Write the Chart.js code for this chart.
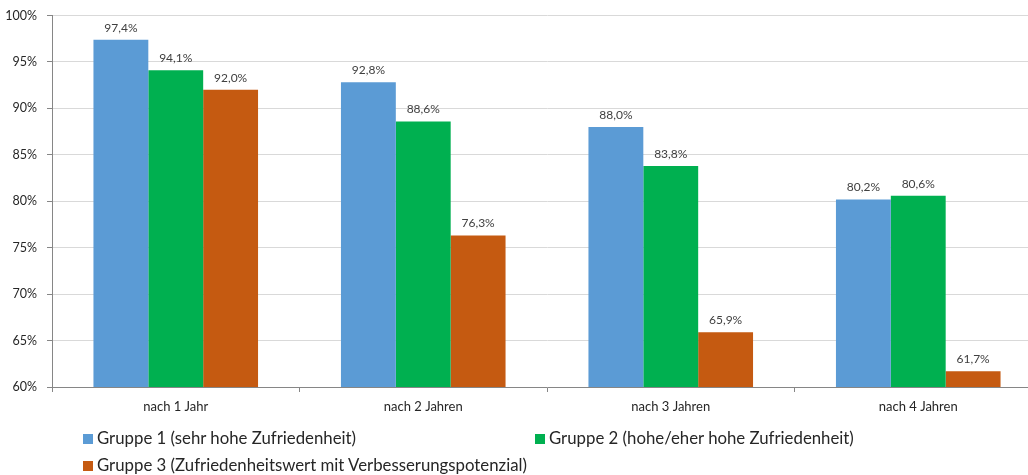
<!DOCTYPE html>
<html>
<head>
<meta charset="utf-8">
<script src="https://cdn.jsdelivr.net/npm/chart.js@4"></script>
<style>
  body { margin: 0; background: #fff; }
  #wrap { position: relative; width: 1028px; height: 475px; overflow: hidden; }
  #chart { position: absolute; left: 0; top: -2px; }
  .leg { position: absolute; font-family: Lato, sans-serif; font-size: 16.8px; color: #262626; white-space: nowrap; line-height: 18px; }
  .leg i { display: inline-block; width: 10px; height: 10px; margin-right: 4px; vertical-align: 0px; }
</style>
</head>
<body>
<div id="wrap">
  <canvas id="chart" width="1048" height="477"></canvas>
  <div id="legend"></div>
</div>
<script>
// Data
const categories = ["nach 1 Jahr", "nach 2 Jahren", "nach 3 Jahren", "nach 4 Jahren"];
const seriesNames = [
    "Gruppe 1 (sehr hohe Zufriedenheit)",
    "Gruppe 2 (hohe/eher hohe Zufriedenheit)",
    "Gruppe 3 (Zufriedenheitswert mit Verbesserungspotenzial)"
];
const gruppe1 = [97.4, 92.8, 88.0, 80.2];
const gruppe2 = [94.1, 88.6, 83.8, 80.6];
const gruppe3 = [92.0, 76.3, 65.9, 61.7];
const colors = ["#5b9bd5", "#00b050", "#c55a11"];

const fmt = v => v.toFixed(1).replace(".", ",") + "%";

// Value labels above bars
const valueLabels = {
    id: "valueLabels",
    afterDatasetsDraw(chart) {
        const ctx = chart.ctx;
        ctx.save();
        ctx.font = "12px Lato, sans-serif";
        ctx.fillStyle = "#404040";
        ctx.textAlign = "center";
        ctx.textBaseline = "bottom";
        chart.data.datasets.forEach((ds, i) => {
            chart.getDatasetMeta(i).data.forEach((bar, j) => {
                ctx.fillText(fmt(ds.data[j]), bar.x, bar.y - 6);
            });
        });
        ctx.restore();
    }
};

const datasets = [gruppe1, gruppe2, gruppe3].map((d, i) => ({
    label: seriesNames[i],
    data: d,
    backgroundColor: colors[i],
    borderWidth: 0,
    categoryPercentage: 0.665,
    barPercentage: 1.0
}));

new Chart(document.getElementById("chart"), {
    type: "bar",
    data: { labels: categories, datasets: datasets },
    options: {
        responsive: false,
        animation: false,
        layout: { padding: { top: 14, right: 6, left: 0, bottom: 0 } },
        plugins: { legend: { display: false }, tooltip: { enabled: false } },
        scales: {
            x: {
                grid: { offset: true, drawOnChartArea: false, drawTicks: true, tickLength: 5, color: "#868686" },
                border: { color: "#868686" },
                ticks: { color: "#262626", font: { family: "Lato, sans-serif", size: 13 }, padding: 7 },
                afterFit(s) { s.height = 88; }
            },
            y: {
                min: 60, max: 100,
                grid: { color: "#d9d9d9", tickLength: 5, tickColor: "#868686" },
                border: { color: "#868686" },
                ticks: {
                    stepSize: 5,
                    color: "#262626",
                    font: { family: "Lato, sans-serif", size: 12.5 },
                    padding: 10,
                    callback: v => v + "%"
                },
                afterFit(s) { s.width = 52; }
            }
        }
    },
    plugins: [valueLabels]
});

// Legend (HTML)
const legendPos = [[83, 429], [535, 429], [83, 456]];
const legendEl = document.getElementById("legend");
seriesNames.forEach((name, i) => {
    const div = document.createElement("div");
    div.className = "leg";
    div.style.left = legendPos[i][0] + "px";
    div.style.top = legendPos[i][1] + "px";
    div.innerHTML = `<i style="background:${colors[i]}"></i>${name}`;
    legendEl.appendChild(div);
});
</script>
</body>
</html>
